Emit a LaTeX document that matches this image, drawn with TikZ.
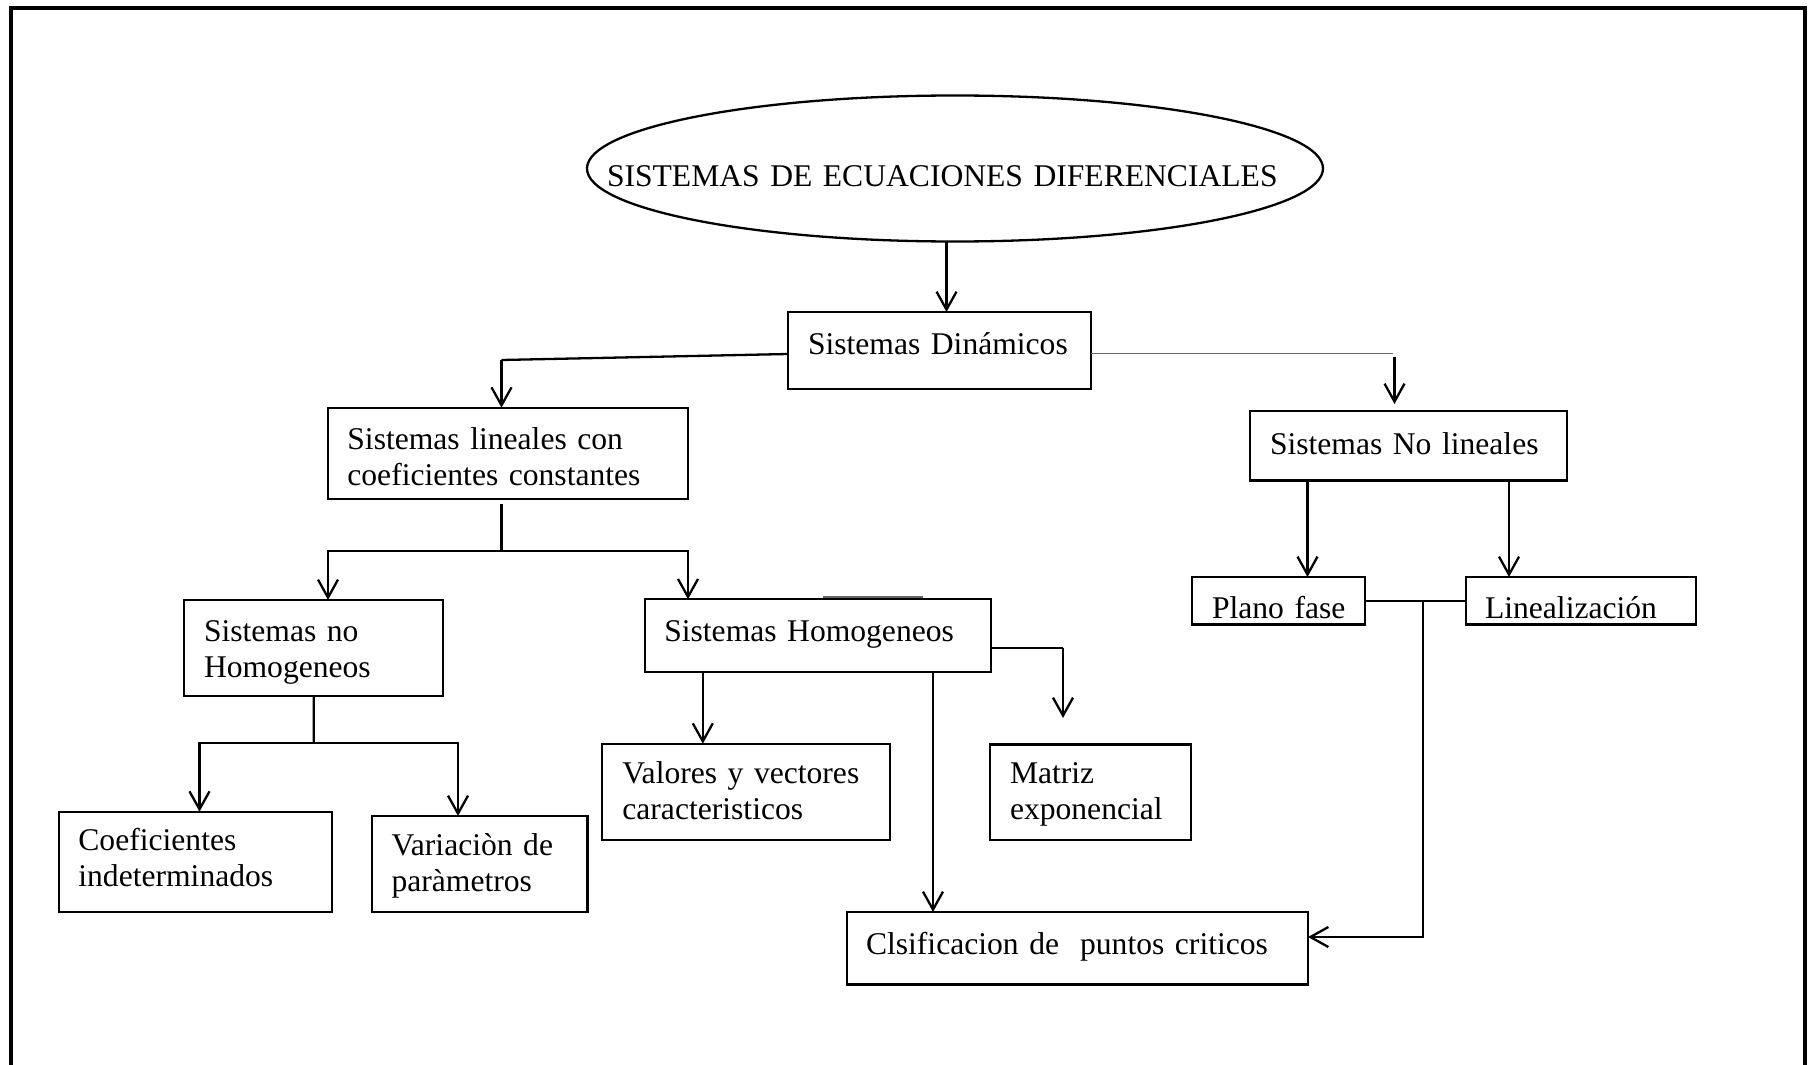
\documentclass[tikz,border=0pt]{standalone}
\usepackage{fontspec}
\setmainfont{Liberation Serif}
\usetikzlibrary{arrows.meta,shapes.geometric}
\newcommand\mkbox[5]{\node[box, minimum width={(#4-#2)*0.5pt}, minimum height={(#5-#3)*0.5pt}] (#1) at ({(#2+#4)/2},{(#3+#5)/2}) {};}
\begin{document}
\begin{tikzpicture}[x=0.5pt,y=-0.5pt,
  box/.style={draw, line width=1.15pt, rectangle, inner sep=0pt, outer sep=0pt},
  lbl/.style={anchor=base west, inner sep=0pt, outer sep=0pt, font=\fontsize{15.8}{18}\selectfont, align=left, text width=200pt, yshift=-1.25pt},
  link/.style={line width=1.15pt},
  arr/.style={line width=1.15pt, -{Straight Barb[length=9pt,width=10pt]}},
  faint/.style={line width=0.6pt, draw=black!60}
]
\useasboundingbox (0,0) rectangle (1810,1065);
% outer frame
\draw[line width=1.6pt] (11,1066) -- (11,8) -- (1805,8) -- (1805,1066);

% title ellipse
\node[draw, ellipse, line width=1.15pt, inner sep=0pt, outer sep=0pt, minimum width=368pt, minimum height=73pt] (top) at (955,168.5) {};
\node[lbl, text width=360pt] (ttop) at (607,183.5) {SISTEMAS DE ECUACIONES DIFERENCIALES};

% boxes
\mkbox{dyn}{788}{312}{1091}{389}
\node[lbl] (tdyn) at (808,351.7) {Sistemas Dinámicos};
\mkbox{lin}{328}{407.7}{687.8}{499}
\node[lbl] (tlin) at (347.4,446.7) {Sistemas lineales con\\coeficientes constantes};
\mkbox{nol}{1250}{411}{1567}{480.5}
\node[lbl] (tnol) at (1270,452.2) {Sistemas No lineales};
\mkbox{nhom}{184.3}{600}{443.2}{696}
\node[lbl] (tnhom) at (204,639) {Sistemas no\\Homogeneos};
\mkbox{hom}{645}{599.3}{990.8}{671.7}
\node[lbl] (thom) at (664.3,639) {Sistemas Homogeneos};
\mkbox{plano}{1192}{577}{1365}{624.5}
\node[lbl] (tplano) at (1212,615.6) {Plano fase};
\mkbox{linz}{1466}{577}{1696}{624.5}
\node[lbl] (tlinz) at (1485,615.6) {Linealización};
\mkbox{coef}{58.7}{811.7}{332.3}{911.7}
\node[lbl] (tcoef) at (78.4,848.3) {Coeficientes\\indeterminados};
\mkbox{var}{371.8}{816}{587.4}{911.7}
\node[lbl] (tvar) at (391.6,853.3) {Variaciòn de\\paràmetros};
\mkbox{val}{602}{743.7}{889.7}{840}
\node[lbl] (tval) at (622.4,781) {Valores y vectores\\caracteristicos};
\mkbox{mat}{990}{744.5}{1191}{840}
\node[lbl] (tmat) at (1010,781) {Matriz\\exponencial};
\mkbox{cls}{847}{912}{1308}{984.5}
\node[lbl, text width=260pt] (tcls) at (866,951.7) {Clsificacion de~ puntos criticos};

% helper coordinates
\coordinate (c1) at (946.5,0);
\coordinate (e1) at (501.5,360);
\coordinate (e2) at (1393,353.6);
\coordinate (e3) at (1394.5,357);
\coordinate (e4) at (1394.5,404);
\coordinate (f1) at (501.5,504);
\coordinate (f2) at (501.5,550.7);
\coordinate (g1) at (328,0);
\coordinate (g2) at (688,0);
\coordinate (h1) at (313.8,743);
\coordinate (v1) at (702.8,0);
\coordinate (v2) at (933,0);
\coordinate (v3) at (1063,647.7);
\coordinate (v4) at (1063,718);
\coordinate (w1) at (1307.5,0);
\coordinate (w2) at (1509,0);
\coordinate (w4) at (1423,600.8);
\coordinate (w5) at (0,937);

% connectors
\draw[arr] (top.south -| c1) -- (dyn.north -| c1);
\draw[link] ([yshift=-1.75pt]dyn.west) -- (e1);
\draw[arr] (e1) -- (e1 |- lin.north);
\draw[faint] ([yshift=-1.55pt]dyn.east) -- (e2);
\draw[arr] (e3) -- (e4);
\draw[link] (f1) -- (f2);
\draw[arr] (f2) -| (g1 |- nhom.north);
\draw[arr] (f2) -| (g2 |- hom.north);
\draw[faint] (823,597) -- (923,597);
\draw[link] (nhom.south) -- (h1);
\draw[arr] (h1) -| ([xshift=2pt]coef.north);
\draw[arr] (h1) -| ([xshift=-10.8pt]var.north);
\draw[arr] (hom.south -| v1) -- (val.north -| v1);
\draw[arr] (hom.south -| v2) -- (cls.north -| v2);
\draw[link] (v3 -| hom.east) -- (v3);
\draw[arr] (v3) -- (v4);
\draw[arr] (nol.south -| w1) -- (plano.north -| w1);
\draw[arr] (nol.south -| w2) -- (linz.north -| w2);
\draw[link] (plano.east) -- (linz.west);
\draw[arr] (w4) |- (cls.east |- w5);
\end{tikzpicture}
\end{document}
